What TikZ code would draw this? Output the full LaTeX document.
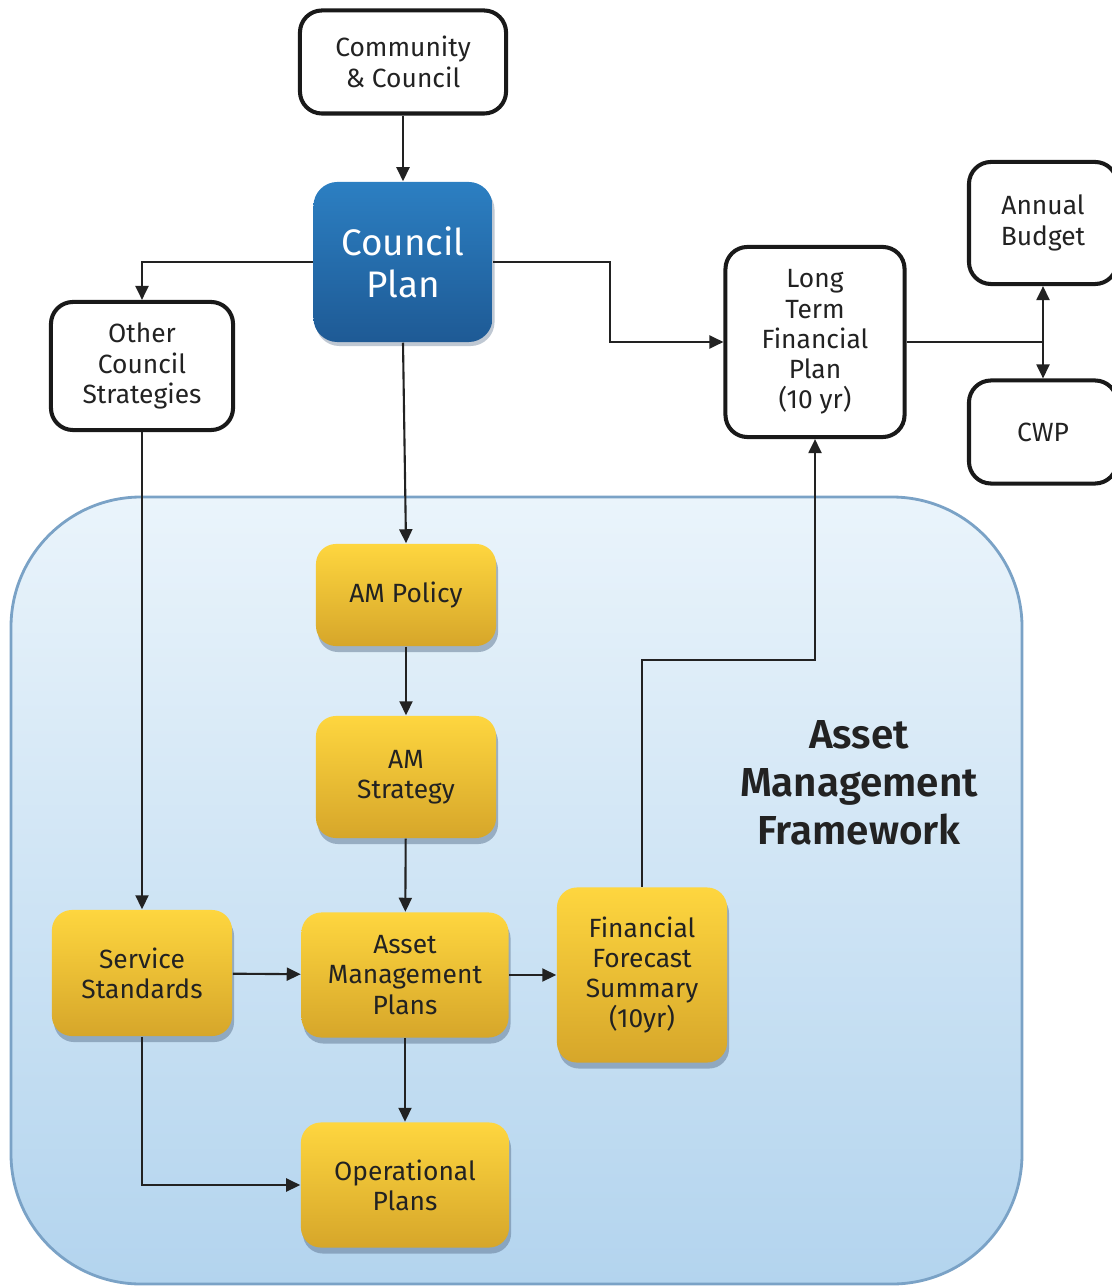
\documentclass[tikz,border=0pt]{standalone}
\usepackage{fontspec}
\setmainfont{Fira Sans}
\newfontfamily\framefont{Fira Sans SemiBold}
\usetikzlibrary{arrows.meta,shadows}
\definecolor{plantop}{HTML}{2C7FC2}
\definecolor{planbottom}{HTML}{1E5A95}
\definecolor{amtop}{HTML}{FED63F}
\definecolor{ambottom}{HTML}{D6A62A}
\definecolor{frametop}{HTML}{EAF4FB}
\definecolor{framebottom}{HTML}{B3D4EE}
\definecolor{framerim}{HTML}{7AA2C6}
\definecolor{shadowgrey}{HTML}{5E7590}
\definecolor{inktext}{HTML}{222222}
\begin{document}
\begin{tikzpicture}[x=0.01cm,y=-0.01cm,
  outbox/.style={draw=black!90,line width=1.15pt,rounded corners=0.22cm,fill=white,align=center,inner sep=0pt,text=inktext,font=\fontsize{7.5}{8.6}\selectfont},
  planbox/.style={rounded corners=0.24cm,top color=plantop,bottom color=planbottom,align=center,inner sep=0pt,text=white,font=\fontsize{10.5}{12}\selectfont,drop shadow={shadow xshift=0.02cm,shadow yshift=-0.04cm,fill=shadowgrey,opacity=0.4}},
  ambox/.style={rounded corners=0.2cm,top color=amtop,bottom color=ambottom,align=center,inner sep=0pt,text=inktext,font=\fontsize{7.5}{8.6}\selectfont,drop shadow={shadow xshift=0.02cm,shadow yshift=-0.06cm,fill=shadowgrey,opacity=0.5}},
  link/.style={line width=0.6pt,draw=inktext,-{Triangle[length=0.14cm,width=0.13cm]}}]
\useasboundingbox (0,0) rectangle (1111,1286);
\draw [draw=framerim,line width=0.8pt,rounded corners=1.3cm,top color=frametop,bottom color=framebottom] (11,497) rectangle (1022,1284);
\node [font=\fontsize{11.5}{13.7}\framefont,text=inktext,align=center] (amf) at (859,783) {Asset\\Management\\Framework};
\node [outbox,minimum width=2.06cm,minimum height=1.03cm] (cc) at (403,62) {Community\\\& Council};
\node [planbox,minimum width=1.79cm,minimum height=1.6cm] (cp) at (403,262) {Council\\Plan};
\node [outbox,minimum width=1.82cm,minimum height=1.28cm] (ocs) at (142,366) {Other\\Council\\Strategies};
\node [outbox,minimum width=1.79cm,minimum height=1.9cm] (ltfp) at (815,342) {Long\\Term\\Financial\\Plan\\(10 yr)};
\node [outbox,minimum width=1.48cm,minimum height=1.22cm] (ab) at (1043,223) {Annual\\Budget};
\node [outbox,minimum width=1.48cm,minimum height=1.03cm] (cwp) at (1043,432) {CWP};
\node [ambox,minimum width=1.8cm,minimum height=1.02cm] (amp) at (406,595) {AM Policy};
\node [ambox,minimum width=1.8cm,minimum height=1.22cm] (ams) at (406,777) {AM\\Strategy};
\node [ambox,minimum width=1.8cm,minimum height=1.26cm] (ss) at (142,973) {Service\\Standards};
\node [ambox,minimum width=2.07cm,minimum height=1.25cm] (amplans) at (405,975) {Asset\\Management\\Plans};
\node [ambox,minimum width=1.7cm,minimum height=1.75cm] (ffs) at (642,975) {Financial\\Forecast\\Summary\\(10yr)};
\node [ambox,minimum width=2.08cm,minimum height=1.25cm] (op) at (405,1185) {Operational\\Plans};
\coordinate (split) at (1043,342);
\draw [link] (cc) -- (cp);
\draw [link] (cp.west) -| (ocs.north);
\draw [link] (cp.east) -- ++(117,0) |- (ltfp.west);
\draw [link] (cp.south) -- (amp.north);
\draw [line width=0.6pt,draw=inktext] (ltfp.east) -- (split);
\draw [link] (split) -- (ab.south);
\draw [link] (split) -- (cwp.north);
\draw [link] (ocs.south) -- (ss.north);
\draw [link] (amp) -- (ams);
\draw [link] (ams) -- (amplans);
\draw [link] (ss) -- (amplans);
\draw [link] (amplans) -- (ffs);
\draw [link] (ffs.north) -- ++(0,-227) -| (ltfp.south);
\draw [link] (amplans) -- (op);
\draw [link] (ss.south) |- (op.west);
\end{tikzpicture}
\end{document}
